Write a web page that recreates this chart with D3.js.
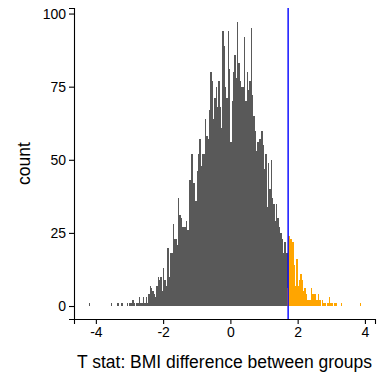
<!DOCTYPE html>
<html><head><meta charset="utf-8">
<script src="https://cdn.jsdelivr.net/npm/d3@7"></script>
<style>body{margin:0;background:#fff} svg{display:block}</style>
</head><body>
<script>
// ---- data ----
const binWidth = 0.04;
const grayStart = -4.24;   // lower edge of first gray bin
const grayCounts = [
  0,1,0,0,0,0,0,0,0,0,
  0,0,0,0,0,0,0,1,0,0,
  0,0,1,0,0,1,0,0,0,1,
  0,1,1,2,1,0,1,1,3,1,
  1,3,1,3,1,4,7,6,5,4,
  3,7,10,9,10,5,13,9,7,20,
  10,18,18,28,23,23,21,37,31,30,
  27,27,27,29,26,43,43,52,42,42,
  36,46,52,57,48,52,52,64,58,57,
  67,80,77,64,71,75,68,77,68,61,
  94,89,75,71,94,81,56,70,80,86,
  78,97,83,77,75,75,92,70,80,74,
  77,95,72,65,60,53,56,57,57,60,
  55,47,52,34,49,40,50,37,35,29,
  35,30,27,25,23,18,22,18,12
];
const orangeStart = 1.68;  // lower edge of first orange bin
const orangeCounts = [
  6,24,23,23,22,14,7,16,7,9,
  11,9,5,6,4,2,2,2,6,4,
  4,4,2,4,2,0,2,1,1,0,
  1,3,1,1,0,1,1,0,0,0,
  1,0,0,0,0,0,0,0,0,0,
  0,0,0,0,1
];
const threshold = 1.717;
const xTicks = [-4, -2, 0, 2, 4];
const yTicks = [0, 25, 50, 75, 100];
const xLabel = "T stat: BMI difference between groups";
const yLabel = "count";

// ---- layout ----
const W = 384, H = 384;
const mLeft = 74, mRight = 375, mTop = 8, mBottom = 319;
const font = "'Liberation Sans', Arial, Helvetica, sans-serif";

const x = d3.scaleLinear().domain([-4.65, 4.30]).range([mLeft, mRight]);
const y = d3.scaleLinear().domain([-4.44, 101.9]).range([mBottom, mTop]);

const svg = d3.select("body").append("svg").attr("width", W).attr("height", H);

// build bins
const orangeBins = orangeCounts.map((c, i) => ({x0: orangeStart + i * binWidth, c}));
const orangeByIdx = new Map(orangeBins.map(b => [Math.round(b.x0 / binWidth), b.c]));
const grayBins = grayCounts.map((c, i) => {
  const x0 = grayStart + i * binWidth;
  const base = orangeByIdx.get(Math.round(x0 / binWidth)) || 0;
  return {x0, c, base};
});

svg.append("g").attr("shape-rendering", "crispEdges")
  .selectAll("rect").data(orangeBins.filter(d => d.c > 0)).join("rect")
  .attr("x", d => x(d.x0)).attr("width", d => x(d.x0 + binWidth) - x(d.x0))
  .attr("y", d => y(d.c)).attr("height", d => y(0) - y(d.c))
  .attr("fill", "#FFA500");

svg.append("g").attr("shape-rendering", "crispEdges")
  .selectAll("rect").data(grayBins.filter(d => d.c > 0)).join("rect")
  .attr("x", d => x(d.x0)).attr("width", d => x(d.x0 + binWidth) - x(d.x0))
  .attr("y", d => y(d.base + d.c)).attr("height", d => y(d.base) - y(d.base + d.c))
  .attr("fill", "#595959");

// threshold line
svg.append("line")
  .attr("x1", x(threshold)).attr("x2", x(threshold))
  .attr("y1", mTop).attr("y2", mBottom)
  .attr("stroke", "#0000FF").attr("stroke-width", 1.4);

// axes
const xAxis = svg.append("g").attr("transform", `translate(0,${mBottom})`)
  .call(d3.axisBottom(x).tickValues(xTicks).tickSizeOuter(0).tickSize(5).tickPadding(3)
    .tickFormat(d3.format("d")));
const yAxis = svg.append("g").attr("transform", `translate(${mLeft},0)`)
  .call(d3.axisLeft(y).tickValues(yTicks).tickSizeOuter(0).tickSize(5).tickPadding(3));

[xAxis, yAxis].forEach(g => {
  g.select(".domain").attr("stroke", "#000").attr("stroke-width", 1.1);
  g.selectAll(".tick line").attr("stroke", "#000").attr("stroke-width", 1.1);
  g.selectAll(".tick text").attr("fill", "#000").style("font-family", font).style("font-size", "14px");
});
xAxis.selectAll(".tick text").text(d => d < 0 ? "-" + Math.abs(d) : String(d));

// titles
svg.append("text").attr("x", (mLeft + mRight) / 2).attr("y", 368)
  .attr("text-anchor", "middle").style("font-family", font).style("font-size", "17.5px")
  .attr("fill", "#000").text(xLabel);
svg.append("text").attr("transform", `translate(30,${(mTop + mBottom) / 2}) rotate(-90)`)
  .attr("text-anchor", "middle").style("font-family", font).style("font-size", "17.5px")
  .attr("fill", "#000").text(yLabel);
</script>
</body></html>
